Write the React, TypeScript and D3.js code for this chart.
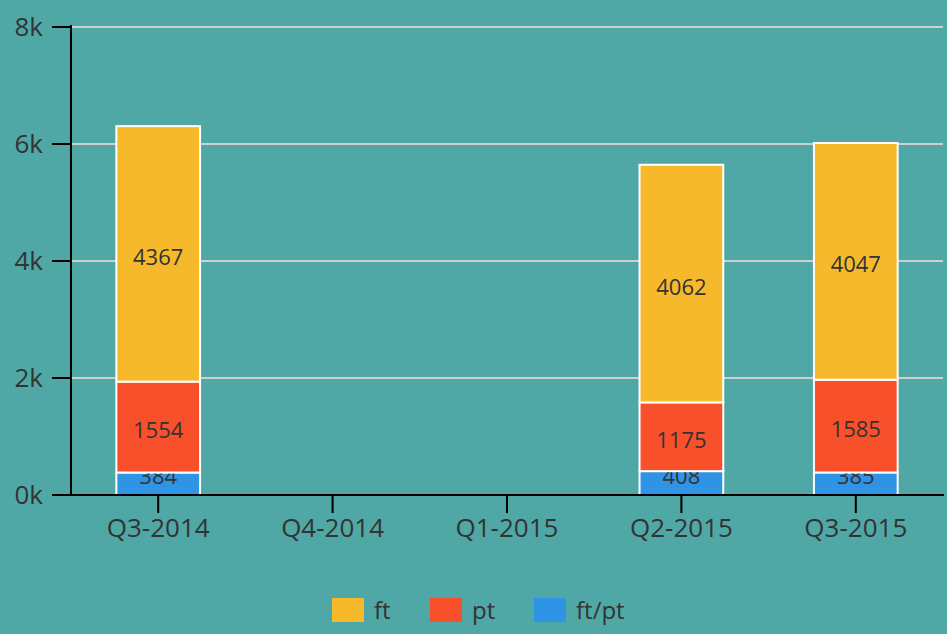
import React from "react";
import * as d3 from "d3";

const categories = ["Q3-2014", "Q4-2014", "Q1-2015", "Q2-2015", "Q3-2015"];
const seriesKeys = ["ft/pt", "pt", "ft"];
const ftptValues = [384, 0, 0, 408, 385];
const ptValues = [1554, 0, 0, 1175, 1585];
const ftValues = [4367, 0, 0, 4062, 4047];
const yTicks = [0, 2000, 4000, 6000, 8000];
const colors: Record<string, string> = { ft: "#f7b92c", pt: "#f7502b", "ft/pt": "#2f93e6" };
const legendOrder = ["ft", "pt", "ft/pt"];

const W = 947, H = 634;
const FONT = "'Open Sans', sans-serif";
const TEXT = "#333";

export default function App() {
  const x = d3.scaleBand<string>().domain(categories).range([71, 943]).paddingInner(0.52).paddingOuter(0.26);
  const y = d3.scaleLinear().domain([0, 8000]).range([495, 27]);
  const rows = categories.map((c, i) => ({ cat: c, "ft/pt": ftptValues[i], pt: ptValues[i], ft: ftValues[i] }));
  const stacked = d3.stack<any>().keys(seriesKeys)(rows);
  const legendX = [332, 430, 534];

  return (
    <div style={{ position: "absolute", left: 0, top: 0 }}>
      <svg width={W} height={H} style={{ display: "block" }}>
        <rect x={0} y={0} width={W} height={H} fill="#50a8a6" />
        {yTicks.map((t) => (
          <g key={t}>
            {t > 0 && <line x1={71} x2={943} y1={y(t)} y2={y(t)} stroke="#cfcfcf" strokeWidth={2} />}
            <line x1={52} x2={71} y1={y(t)} y2={y(t)} stroke="#000" strokeWidth={2} />
            <text x={43} y={y(t)} dy="0.36em" textAnchor="end" fontFamily={FONT} fontSize={26} fill={TEXT}>
              {t / 1000 + "k"}
            </text>
          </g>
        ))}
        {stacked.map((s) =>
          s.map((d, i) => {
            if (d[1] - d[0] <= 0) return null;
            const cat = categories[i];
            const top = y(d[1]);
            const bottom = y(d[0]);
            const mid = (top + bottom) / 2;
            const cy = Math.min(mid + 3, bottom - 19);
            return (
              <g key={s.key + cat}>
                <rect x={x(cat)!} y={top} width={x.bandwidth()} height={bottom - top} fill={colors[s.key]} stroke="#fff" strokeWidth={2} />
                <text x={x(cat)! + x.bandwidth() / 2} y={cy} dy="0.36em" textAnchor="middle" fontFamily={FONT} fontSize={22} fill={TEXT}>
                  {d[1] - d[0]}
                </text>
              </g>
            );
          })
        )}
        <line x1={71} x2={71} y1={25} y2={495} stroke="#000" strokeWidth={2} />
        <line x1={70} x2={944} y1={495} y2={495} stroke="#000" strokeWidth={2} />
        {categories.map((c) => {
          const cx = x(c)! + x.bandwidth() / 2;
          return (
            <g key={c}>
              <line x1={cx} x2={cx} y1={495} y2={513} stroke="#000" strokeWidth={2} />
              <text x={cx} y={537} textAnchor="middle" fontFamily={FONT} fontSize={26} fill={TEXT}>
                {c}
              </text>
            </g>
          );
        })}
        {legendOrder.map((k, i) => (
          <g key={k}>
            <rect x={legendX[i]} y={598} width={32} height={24} fill={colors[k]} />
            <text x={legendX[i] + 42} y={619} fontFamily={FONT} fontSize={24} fill={TEXT}>
              {k}
            </text>
          </g>
        ))}
      </svg>
    </div>
  );
}
